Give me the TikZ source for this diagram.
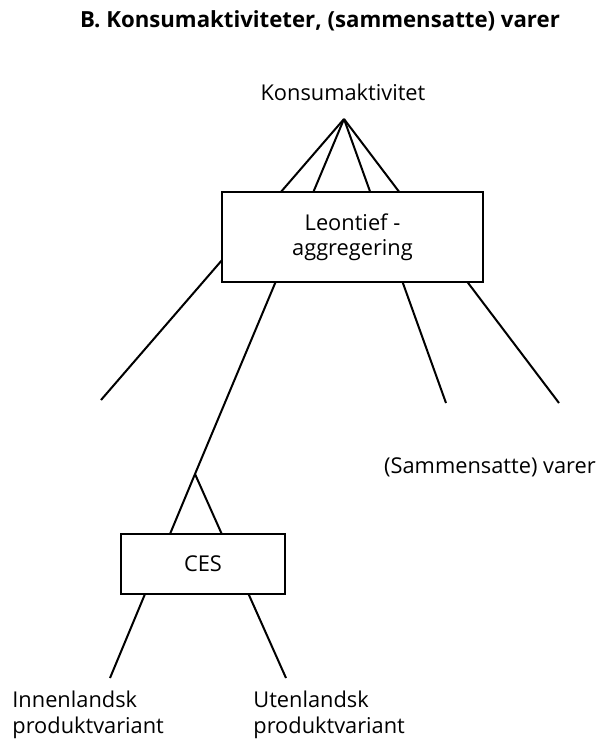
\documentclass[tikz,border=0pt]{standalone}
\usepackage{fontspec}
\setmainfont{Open Sans}
\usepackage{tikz}

\tikzset{
    boks/.style={draw, fill=white, line width=1pt, inner sep=0pt},
    etikett/.style={font=\fontsize{10.9}{12.6}\selectfont, inner sep=0pt},
    gren/.style={line width=1pt}
}

\begin{document}
\begin{tikzpicture}[x=0.5pt,y=-0.5pt]
    \useasboundingbox (0,0) rectangle (600,740);

    % Title
    \node[etikett, font=\fontsize{11.1}{13}\selectfont\bfseries] (tittel) at (320,21)
        {B. Konsumaktiviteter, (sammensatte) varer};

    % Top level and branch points
    \node[etikett] (konsum) at (343,92) {Konsumaktivitet};
    \coordinate (topp) at (344,119);
    \coordinate (v1) at (101,400);
    \coordinate (cestopp) at (195,474);
    \coordinate (v3) at (446,403);
    \coordinate (v4) at (559,403);
    \coordinate (inn) at (110,678);
    \coordinate (ut) at (286,678);

    % Draw branches
    \draw[gren] (topp) -- (v1);
    \draw[gren] (topp) -- (cestopp);
    \draw[gren] (topp) -- (v3);
    \draw[gren] (topp) -- (v4);
    \draw[gren] (cestopp) -- (inn);
    \draw[gren] (cestopp) -- (ut);

    % Aggregation boxes
    \node[boks, minimum width=130.5pt, minimum height=45pt, align=center,
          font=\fontsize{10.9}{12.6}\selectfont] (leontief) at (352.5,237)
        {Leontief -\\aggregering};
    \node[boks, minimum width=82pt, minimum height=30pt,
          font=\fontsize{10.9}{12.6}\selectfont] (ces) at (203,564) {CES};

    % Labels for goods
    \node[etikett] (varer) at (490,467) {(Sammensatte) varer};
    \node[etikett, align=left, anchor=north west] (innlabel) at (12,691)
        {Innenlandsk\\produktvariant};
    \node[etikett, align=left, anchor=north west] (utlabel) at (253,691)
        {Utenlandsk\\produktvariant};
\end{tikzpicture}
\end{document}
